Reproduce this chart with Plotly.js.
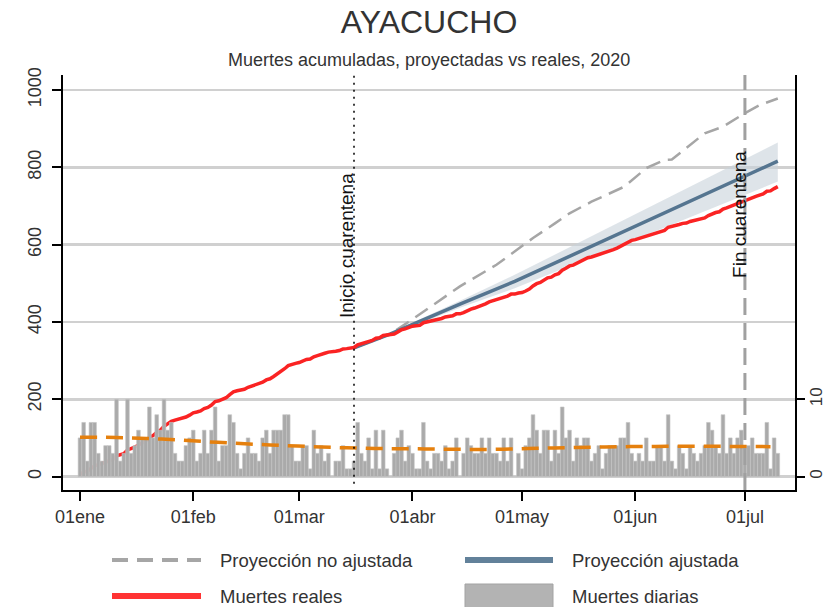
<!DOCTYPE html>
<html>
<head>
<meta charset="utf-8">
<script src="https://cdn.plot.ly/plotly-3.0.1.min.js"></script>
<style>html,body{margin:0;padding:0;background:#fff;}#chart{width:825px;height:607px;}</style>
</head>
<body>
<div id="chart"></div>
<script>
// ---------- DATA ----------
const startDate = '2020-01-01';
// Daily deaths, one per day from 01ene to 10jul
const dailyDeaths = [
  5,7,2,7,7,3,2,4,4,3,
  10,2,3,10,3,4,6,5,5,9,
  5,8,6,10,6,7,3,2,2,4,
  5,6,2,3,6,3,6,9,2,4,
  4,8,7,3,1,3,5,3,3,2,
  5,6,3,6,6,6,8,8,4,2,
  2,4,4,1,6,3,4,2,3,0,
  2,2,4,1,1,2,7,3,2,5,
  1,6,1,6,1,0,3,5,6,2,
  4,3,1,1,7,2,1,3,3,2,
  4,1,2,5,0,3,5,4,3,3,
  5,3,5,3,3,2,5,2,5,0,
  3,1,4,5,8,6,3,6,6,2,
  6,3,9,5,6,2,5,4,5,5,
  2,3,4,1,3,4,4,4,5,5,
  7,3,2,3,2,5,2,2,4,4,
  2,8,2,1,4,3,1,4,3,2,
  3,4,7,6,4,3,8,3,5,3,
  5,6,4,4,5,3,3,3,7,1,
  5,3
];
// Accumulated real deaths (same days)
const realDeaths = [
  5,12,14,21,28,31,33,37,41,44,
  54,56,59,69,72,76,82,87,92,101,
  106,114,120,130,136,143,146,148,150,154,
  159,165,167,170,176,179,185,194,196,200,
  204,212,219,222,223,226,231,234,237,239,
  244,250,253,259,265,271,279,287,291,293,
  295,299,303,304,310,313,317,319,322,322,
  324,326,330,331,332,334,341,344,346,351,
  352,358,359,365,366,366,369,374,380,382,
  386,389,390,391,398,400,401,404,407,409,
  413,414,416,421,421,424,429,433,436,439,
  444,447,452,455,458,460,465,467,472,472,
  475,476,480,485,493,499,502,508,514,516,
  522,525,534,539,545,547,552,556,561,566,
  568,571,575,576,579,583,587,591,596,601,
  608,611,613,616,618,623,625,627,631,635,
  637,645,647,648,652,655,656,660,662,664,
  666,669,675,680,683,685,692,695,699,702,
  706,711,714,718,722,725,728,731,738,739,
  745,750
];
// Adjusted projection and its confidence band
const adjDates  = ['2020-03-16','2020-03-26','2020-04-14','2020-04-29','2020-07-10'];
const adjValues = [333, 369, 446, 505, 816];
const adjUpper  = [334, 372, 455, 522, 864];
const adjLower  = [332, 366, 437, 487, 763];
// Unadjusted projection
const unadjDates = ['2020-03-16','2020-03-26','2020-04-01','2020-04-14','2020-04-24','2020-04-29',
  '2020-05-04','2020-05-10','2020-05-14','2020-05-20','2020-05-29','2020-06-04','2020-06-09',
  '2020-06-11','2020-06-20','2020-06-25','2020-07-01','2020-07-05','2020-07-10'];
const unadjValues = [333,369,407,492,548,582,617,655,681,711,750,798,819,820,888,905,940,961,978];
// Trend of daily deaths
const trendDates = ['2020-01-01','2020-01-08','2020-01-15','2020-01-22','2020-01-29','2020-02-05',
  '2020-02-12','2020-02-19','2020-02-26','2020-03-04','2020-03-11','2020-03-18','2020-03-25',
  '2020-04-01','2020-04-08','2020-04-15','2020-04-22','2020-04-29','2020-05-06','2020-05-13',
  '2020-05-20','2020-05-27','2020-06-03','2020-06-10','2020-06-17','2020-06-24','2020-07-01','2020-07-08'];
const trendValues = [5.1,5.08,5.0,4.88,4.72,4.5,4.32,4.15,4.02,3.88,3.76,3.67,3.62,3.6,3.56,3.52,
  3.52,3.58,3.66,3.74,3.8,3.86,3.89,3.91,3.92,3.91,3.89,3.87];
// Axis ticks
const xTickVals = ['2020-01-01','2020-02-01','2020-03-01','2020-04-01','2020-05-01','2020-06-01','2020-07-01'];
const xTickText = ['01ene','01feb','01mar','01abr','01may','01jun','01jul'];
const yTickVals = [0,200,400,600,800,1000];
const y2TickVals = [0,10];
// Events
const quarantineStart = '2020-03-16';
const quarantineEnd = '2020-07-01';

// ---------- BUILD ----------
function dayDate(i){
  const t = Date.UTC(2020,0,1) + i*86400000;
  return new Date(t).toISOString().slice(0,10);
}
const days = dailyDeaths.map((_, i) => dayDate(i));

const FONT = 'Liberation Sans, Arial, Helvetica, sans-serif';
const TXT = '#333333';
const GRAYDASH = '#a6a6a6';
const BLUE = '#557590';
const RED = '#fa2323';
const BARFILL = '#aaaaaa';

const traces = [
  {x: adjDates, y: adjLower, type:'scatter', mode:'lines', line:{width:0, color:'rgba(0,0,0,0)'},
   hoverinfo:'skip', xaxis:'x', yaxis:'y'},
  {x: adjDates, y: adjUpper, type:'scatter', mode:'lines', line:{width:0, color:'rgba(0,0,0,0)'},
   fill:'tonexty', fillcolor:'rgba(200,210,219,0.6)', hoverinfo:'skip', xaxis:'x', yaxis:'y'},
  {x: unadjDates, y: unadjValues, type:'scatter', mode:'lines', name:'Proyección no ajustada',
   line:{color:GRAYDASH, width:2.5, dash:'15px,8px'}, xaxis:'x', yaxis:'y'},
  {x: adjDates, y: adjValues, type:'scatter', mode:'lines', name:'Proyección ajustada',
   line:{color:BLUE, width:3.5}, xaxis:'x', yaxis:'y'},
  {x: days, y: realDeaths, type:'scatter', mode:'lines', name:'Muertes reales',
   line:{color:RED, width:3.5}, xaxis:'x', yaxis:'y'},
  {x: days, y: dailyDeaths, type:'bar', name:'Muertes diarias',
   marker:{color:BARFILL, line:{color:'#c4c4c4', width:0.6}}, xaxis:'x', yaxis:'y2'},
  {x: trendDates, y: trendValues, type:'scatter', mode:'lines', line:{color:'#e5800e', width:3.5, dash:'17px,9px', shape:'spline'},
   xaxis:'x', yaxis:'y2'}
];

const plotL = 63, plotR = 795, plotT = 75, plotB = 490;
const px = v => (v - plotL) / (plotR - plotL);
const py = v => (plotB - v) / (plotB - plotT);

const layout = {
  width: 825, height: 607,
  margin: {l: plotL, r: 825 - plotR, t: plotT, b: 607 - plotB, pad: 0},
  paper_bgcolor: '#ffffff', plot_bgcolor: '#ffffff',
  font: {family: FONT, color: TXT, size: 18},
  showlegend: false,
  bargap: 0,
  title: {text: 'AYACUCHO', font: {family: FONT, size: 32, color: TXT},
          x: 0.5, xref: 'paper', xanchor: 'center', y: 1 - 22/607, yref: 'container', yanchor: 'middle'},
  xaxis: {type: 'date', range: ['2019-12-27 08:24', '2020-07-14 17:00'],
          tickmode: 'array', tickvals: xTickVals, ticktext: xTickText,
          ticks: 'outside', ticklen: 9, tickwidth: 2, tickcolor: '#000',
          showline: true, linecolor: '#000', linewidth: 2,
          showgrid: false, zeroline: false, tickfont: {size: 18, color: TXT}},
  yaxis: {range: [-34.7, 1038.8], tickmode: 'array', tickvals: yTickVals,
          ticks: 'outside', ticklen: 9, tickwidth: 2, tickcolor: '#000',
          showline: true, linecolor: '#000', linewidth: 2,
          showgrid: true, gridcolor: '#d0d0d0', gridwidth: 2.5, zeroline: false,
          tickangle: -90, tickfont: {size: 18, color: TXT}, ticklabelstandoff: 4},
  yaxis2: {overlaying: 'y', side: 'right', range: [-1.735, 51.94], tickmode: 'array', tickvals: y2TickVals,
           ticks: 'outside', ticklen: 8, tickwidth: 2, tickcolor: '#000',
           showline: true, linecolor: '#000', linewidth: 2, ticklabelstandoff: -3,
           showgrid: false, zeroline: false, tickangle: -90, tickfont: {size: 17, color: TXT}},
  shapes: [
    {type: 'line', xref: 'x', yref: 'paper', x0: quarantineStart, x1: quarantineStart, y0: 0.015, y1: 1,
     line: {color: '#000', width: 1.5, dash: '2px,5px'}, layer: 'above'},
    {type: 'line', xref: 'x', yref: 'paper', x0: quarantineEnd, x1: quarantineEnd, y0: 0, y1: 1,
     line: {color: '#a0a0a0', width: 3, dash: '17px,8px'}, layer: 'above'},
    // legend symbols
    {type: 'line', xref: 'paper', yref: 'paper', x0: px(112), x1: px(201), y0: py(560), y1: py(560),
     line: {color: GRAYDASH, width: 4, dash: '16px,9px'}},
    {type: 'line', xref: 'paper', yref: 'paper', x0: px(465), x1: px(553), y0: py(560), y1: py(560),
     line: {color: '#62819a', width: 6}},
    {type: 'line', xref: 'paper', yref: 'paper', x0: px(112), x1: px(201), y0: py(596), y1: py(596),
     line: {color: '#ff3333', width: 6}},
    {type: 'rect', xref: 'paper', yref: 'paper', x0: px(465), x1: px(553), y0: py(584), y1: py(612),
     fillcolor: '#b3b3b3', line: {color: '#a3a3a3', width: 1}}
  ],
  annotations: [
    {text: 'Muertes acumuladas, proyectadas vs reales, 2020', xref: 'paper', yref: 'paper',
     x: 0.5, y: py(60), xanchor: 'center', yanchor: 'middle', showarrow: false,
     font: {family: FONT, size: 18, color: TXT}},
    {text: 'Inicio cuarentena', xref: 'x', yref: 'paper', x: quarantineStart, y: py(246),
     xanchor: 'center', yanchor: 'middle', xshift: -7, textangle: -90, showarrow: false,
     font: {family: FONT, size: 19, color: '#111'}},
    {text: 'Fin cuarentena', xref: 'x', yref: 'paper', x: quarantineEnd, y: py(214),
     xanchor: 'center', yanchor: 'middle', xshift: -6, textangle: -90, showarrow: false,
     font: {family: FONT, size: 19, color: '#111'}},
    {text: 'Proyección no ajustada', xref: 'paper', yref: 'paper', x: px(218), y: py(560),
     xanchor: 'left', yanchor: 'middle', showarrow: false, font: {family: FONT, size: 18.5, color: TXT}},
    {text: 'Proyección ajustada', xref: 'paper', yref: 'paper', x: px(570), y: py(560),
     xanchor: 'left', yanchor: 'middle', showarrow: false, font: {family: FONT, size: 18.5, color: TXT}},
    {text: 'Muertes reales', xref: 'paper', yref: 'paper', x: px(218), y: py(596),
     xanchor: 'left', yanchor: 'middle', showarrow: false, font: {family: FONT, size: 18.5, color: TXT}},
    {text: 'Muertes diarias', xref: 'paper', yref: 'paper', x: px(570), y: py(596),
     xanchor: 'left', yanchor: 'middle', showarrow: false, font: {family: FONT, size: 18.5, color: TXT}}
  ]
};

Plotly.newPlot('chart', traces, layout, {displayModeBar: false, staticPlot: true});
</script>
</body>
</html>
